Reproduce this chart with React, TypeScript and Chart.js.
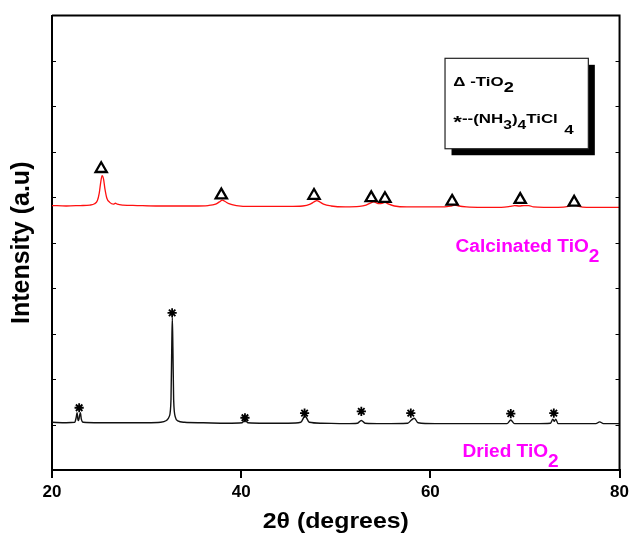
import React, { useEffect, useRef } from "react";
import { Chart, registerables } from "chart.js";

Chart.register(...registerables);

// ---- data ----
const calcinedX = [
  20, 21.5, 23, 24.0, 24.5, 24.8, 25.0, 25.15, 25.3, 25.45, 25.6, 25.8, 26.1, 26.5, 26.7, 26.9, 27.5, 29, 31, 33, 35,
  36.5, 37.3, 37.7, 38.0, 38.3, 38.7, 39.5, 41, 43, 45, 46.5, 47.3, 47.7, 48.0, 48.3, 48.7, 49.5, 51, 52.5, 53.2, 53.7,
  54.0, 54.6, 54.9, 55.2, 55.6, 56.2, 57.5, 59.5, 61.5, 62.2, 62.6, 63.0, 63.8, 65.5, 67.5, 68.4, 68.9, 69.4, 69.9,
  70.4, 70.9, 72, 73.5, 74.6, 75.2, 75.7, 76.5, 78, 80,
];
const calcinedY = [
  58.2, 58.1, 58.2, 58.3, 58.6, 59.3, 61.0, 63.3, 64.8, 64.0, 61.8, 59.8, 58.9, 58.5, 58.7, 58.5, 58.3, 58.2, 58.1, 58.1,
  58.1, 58.2, 58.5, 59.0, 59.4, 59.1, 58.6, 58.2, 58.0, 58.0, 58.0, 58.1, 58.5, 59.0, 59.3, 59.0, 58.5, 58.1, 57.9, 58.0,
  58.3, 58.8, 59.0, 58.6, 58.7, 58.9, 58.5, 58.1, 57.9, 57.9, 57.9, 58.1, 58.3, 58.1, 57.9, 57.8, 57.8, 58.0, 58.2, 58.1,
  58.2, 58.2, 57.9, 57.8, 57.8, 58.0, 58.4, 58.0, 57.8, 57.8, 57.8,
];
const driedX = [
  20, 21.5, 22.4, 22.55, 22.65, 22.75, 22.82, 22.9, 23.0, 23.1, 23.3, 25, 27.5, 30, 31.5, 32.1, 32.4, 32.58, 32.66,
  32.72, 32.78, 32.86, 33.05, 33.3, 34, 36, 38.5, 40.1, 40.4, 40.7, 42.5, 45, 46.3, 46.75, 47.2, 48.5, 51, 52.3, 52.7,
  53.1, 55, 57.6, 58.0, 58.3, 58.7, 60.5, 63, 66, 68.1, 68.5, 68.9, 71, 72.7, 72.95, 73.1, 73.25, 73.5, 75.5, 77.5,
  77.9, 78.3, 80,
];
const driedY = [
  10.5, 10.4, 10.5, 11.5, 12.6, 11.0, 10.9, 11.8, 12.6, 11.2, 10.5, 10.4, 10.4, 10.4, 10.5, 10.9, 11.8, 15.5, 27,
  33.5, 27, 15.5, 11.6, 10.8, 10.5, 10.4, 10.3, 10.4, 11.0, 10.4, 10.3, 10.3, 10.5, 11.9, 10.5, 10.3, 10.2, 10.3, 10.9,
  10.3, 10.2, 10.3, 11.0, 11.4, 10.4, 10.2, 10.2, 10.2, 10.2, 11.0, 10.2, 10.2, 10.3, 11.2, 10.7, 11.2, 10.2, 10.2,
  10.2, 10.6, 10.2, 10.2,
];
// peak markers
const anataseX = [25.2, 37.9, 47.7, 53.75, 55.2, 62.3, 69.5, 75.2];
const anataseY = [66.3, 60.5, 60.4, 59.9, 59.7, 59.1, 59.5, 58.9];
const ammoniumX = [22.87, 32.7, 40.4, 46.7, 52.7, 57.93, 68.5, 73.05];
const ammoniumY = [13.7, 34.6, 11.5, 12.5, 12.9, 12.5, 12.4, 12.5];
// axes
const xMin = 20;
const xMax = 80;
const xStep = 20;
const yMin = 0;
const yMax = 100;
const yMinorTicks = [10, 20, 30, 40, 50, 60, 70, 80, 90];

const FONT = '"Liberation Sans", Arial, Helvetica, sans-serif';

type Seg = { t: string; size: number; dy?: number; dx?: number };

function richWidth(ctx: CanvasRenderingContext2D, segs: Seg[]) {
  let w = 0;
  for (const s of segs) {
    ctx.font = `bold ${s.size}px ${FONT}`;
    w += (s.dx || 0) + ctx.measureText(s.t).width;
  }
  return w;
}

function drawRich(
  ctx: CanvasRenderingContext2D,
  x: number,
  y: number,
  segs: Seg[],
  sx: number,
  color: string,
  center = false
) {
  ctx.save();
  ctx.translate(x, y);
  ctx.scale(sx, 1);
  ctx.fillStyle = color;
  ctx.textBaseline = "alphabetic";
  ctx.textAlign = "left";
  let cx = center ? -richWidth(ctx, segs) / 2 : 0;
  for (const s of segs) {
    cx += s.dx || 0;
    ctx.font = `bold ${s.size}px ${FONT}`;
    ctx.fillText(s.t, cx, s.dy || 0);
    cx += ctx.measureText(s.t).width;
  }
  ctx.restore();
}

const decorPlugin = {
  id: "decor",
  afterDraw(chart: any) {
    const { ctx, chartArea: a, scales } = chart;
    const xs = scales.x;
    const ys = scales.y;
    ctx.save();
    // top and right frame
    ctx.strokeStyle = "#000";
    ctx.lineWidth = 2;
    ctx.beginPath();
    ctx.moveTo(a.left, a.top);
    ctx.lineTo(a.right, a.top);
    ctx.lineTo(a.right, a.bottom);
    ctx.stroke();
    // inner minor ticks on left and right
    ctx.lineWidth = 1.2;
    ctx.beginPath();
    for (const v of yMinorTicks) {
      const py = Math.round(ys.getPixelForValue(v)) + 0.5;
      ctx.moveTo(a.left, py);
      ctx.lineTo(a.left + 4, py);
      ctx.moveTo(a.right, py);
      ctx.lineTo(a.right - 4, py);
    }
    ctx.stroke();

    // legend box
    const bl = xs.getPixelForValue(61.55);
    const br = xs.getPixelForValue(76.7);
    const bt = ys.getPixelForValue(90.6);
    const bb = ys.getPixelForValue(70.7);
    ctx.fillStyle = "#000";
    ctx.fillRect(bl + 6.5, bt + 6.5, br - bl, bb - bt);
    ctx.fillStyle = "#fff";
    ctx.fillRect(bl, bt, br - bl, bb - bt);
    ctx.strokeStyle = "#222";
    ctx.lineWidth = 1.2;
    ctx.strokeRect(bl, bt, br - bl, bb - bt);

    drawRich(ctx, bl + 8.3, bt + 27.7, [
      { t: "\u0394 -TiO", size: 13 },
      { t: "2", size: 14, dy: 5.7 },
    ], 1.3, "#000");
    drawRich(ctx, bl + 8.3, bt + 65, [
      { t: "*", size: 17, dy: 5 },
      { t: "--(NH", size: 13 },
      { t: "3", size: 12, dy: 6 },
      { t: ")", size: 13 },
      { t: "4", size: 12, dy: 6 },
      { t: "TiCl", size: 13 },
      { t: "4", size: 13, dy: 10.7, dx: 5 },
    ], 1.3, "#000");

    // sample labels
    drawRich(ctx, xs.getPixelForValue(62.66), ys.getPixelForValue(47.9), [
      { t: "Calcinated TiO", size: 18 },
      { t: "2", size: 18, dy: 10 },
    ], 1.06, "#ff00ff");
    drawRich(ctx, xs.getPixelForValue(63.4), ys.getPixelForValue(2.87), [
      { t: "Dried TiO", size: 18 },
      { t: "2", size: 18, dy: 10 },
    ], 1.06, "#ff00ff");

    // axis titles
    drawRich(ctx, (a.left + a.right) / 2, a.bottom + 57.7, [{ t: "2\u03b8 (degrees)", size: 22 }], 1.13, "#000", true);
    ctx.save();
    ctx.translate(22.5, (a.top + a.bottom) / 2);
    ctx.rotate(-Math.PI / 2);
    ctx.font = `bold 25px ${FONT}`;
    ctx.fillStyle = "#000";
    ctx.textAlign = "center";
    ctx.textBaseline = "middle";
    ctx.fillText("Intensity (a.u)", 0, 0);
    ctx.restore();

    ctx.restore();
  },
};

export default function App() {
  const ref = useRef<HTMLCanvasElement>(null);
  useEffect(() => {
    if (!ref.current) return;
    const toXY = (xs: number[], ys: number[]) => xs.map((x, i) => ({ x, y: ys[i] }));
    const chart = new Chart(ref.current, {
      type: "line",
      data: {
        datasets: [
          {
            type: "scatter",
            label: "anatase",
            data: toXY(anataseX, anataseY),
            pointStyle: "triangle",
            pointRadius: 6.5,
            pointBorderWidth: 2.3,
            pointBackgroundColor: "#fff",
            pointBorderColor: "#000",
            showLine: false,
            order: 0,
          } as any,
          {
            type: "scatter",
            label: "ammonium",
            data: toXY(ammoniumX, ammoniumY),
            pointStyle: "star",
            pointRadius: 4.6,
            pointBorderWidth: 1.8,
            pointBackgroundColor: "#000",
            pointBorderColor: "#000",
            showLine: false,
            order: 0,
          } as any,
          {
            label: "Calcinated TiO2",
            data: toXY(calcinedX, calcinedY),
            borderColor: "#ff1010",
            borderWidth: 1.3,
            pointRadius: 0,
            cubicInterpolationMode: "monotone",
            fill: false,
            order: 1,
          },
          {
            label: "Dried TiO2",
            data: toXY(driedX, driedY),
            borderColor: "#111",
            borderWidth: 1.4,
            pointRadius: 0,
            cubicInterpolationMode: "monotone",
            fill: false,
            order: 1,
          },
        ],
      },
      options: {
        responsive: false,
        animation: false,
        layout: { padding: { left: 52, right: 11, top: 15.6, bottom: 38.6 } },
        plugins: { legend: { display: false }, tooltip: { enabled: false }, title: { display: false } },
        scales: {
          x: {
            type: "linear",
            min: xMin,
            max: xMax,
            ticks: {
              stepSize: xStep,
              color: "#000",
              padding: 4,
              font: { family: FONT, size: 17, weight: "bold" },
            },
            grid: {
              display: true,
              drawOnChartArea: false,
              drawTicks: true,
              tickLength: 8,
              color: "#000",
              lineWidth: 2,
            },
            border: { display: true, color: "#000", width: 2 },
          },
          y: {
            type: "linear",
            min: yMin,
            max: yMax,
            ticks: { display: false },
            grid: { display: false, drawTicks: false, tickLength: 0 },
            border: { display: true, color: "#000", width: 2 },
          },
        },
      },
      plugins: [decorPlugin],
    });
    return () => chart.destroy();
  }, []);
  return (
    <div style={{ position: "absolute", left: 0, top: 0, width: 633, height: 545, background: "#fff" }}>
      <canvas ref={ref} width={633} height={545} style={{ display: "block", width: 633, height: 545 }} />
    </div>
  );
}
